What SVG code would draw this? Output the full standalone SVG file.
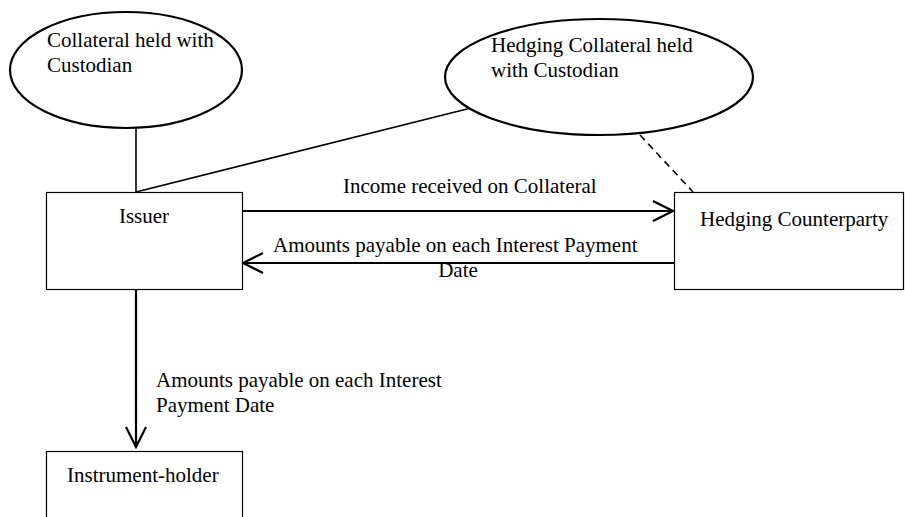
<svg xmlns="http://www.w3.org/2000/svg" width="905" height="517" viewBox="0 0 905 517">
<defs>
<marker id="arr" markerUnits="userSpaceOnUse" markerWidth="24" markerHeight="24" viewBox="-22 -12 24 24" refX="0" refY="0" orient="auto">
<path d="M-20,-10 L0,0 L-20,10" fill="none" stroke="#000" stroke-width="2.2"/>
</marker>
</defs>
<style>
text{font-family:"Liberation Serif","Times New Roman",serif;font-size:21px;fill:#000}
.ell{fill:#fff;stroke:#000;stroke-width:2.2}
.box{fill:#fff;stroke:#000;stroke-width:1.2}
.ln{fill:none;stroke:#000;stroke-width:1.6}
.ar{fill:none;stroke:#000;stroke-width:2.2;marker-end:url(#arr)}
</style>
<rect width="905" height="517" fill="#fff"/>
<g id="connectors">
<line class="ln" x1="136" y1="128" x2="136" y2="192"/>
<line class="ln" x1="136" y1="192" x2="471" y2="108"/>
<line class="ln" x1="640" y1="135" x2="693" y2="192" stroke-dasharray="7,5"/>
<line class="ar" x1="242" y1="211" x2="673" y2="211"/>
<line class="ar" x1="674" y1="263" x2="243" y2="263"/>
<line class="ar" x1="136" y1="290" x2="136" y2="447"/>
<text x="343" y="193">Income received on Collateral</text>
<text x="273" y="252">Amounts payable on each Interest Payment</text>
<text x="458" y="277" text-anchor="middle">Date</text>
<text x="156" y="387">Amounts payable on each Interest</text>
<text x="156" y="412">Payment Date</text>
</g>
<g id="collateral">
<ellipse class="ell" cx="126" cy="70" rx="116" ry="58"/>
<text x="47" y="47">Collateral held with</text>
<text x="47" y="72">Custodian</text>
</g>
<g id="hedging-collateral">
<ellipse class="ell" cx="599" cy="77" rx="154" ry="58"/>
<text x="491" y="52">Hedging Collateral held</text>
<text x="491" y="77">with Custodian</text>
</g>
<g id="issuer">
<rect class="box" x="46.5" y="192.5" width="196" height="97"/>
<text x="144" y="223" text-anchor="middle">Issuer</text>
</g>
<g id="hedging-counterparty">
<rect class="box" x="674.5" y="192.5" width="229" height="97"/>
<text x="700" y="226">Hedging Counterparty</text>
</g>
<g id="instrument-holder">
<rect class="box" x="46.5" y="451.5" width="196" height="80"/>
<text x="67" y="482">Instrument-holder</text>
</g>
</svg>
